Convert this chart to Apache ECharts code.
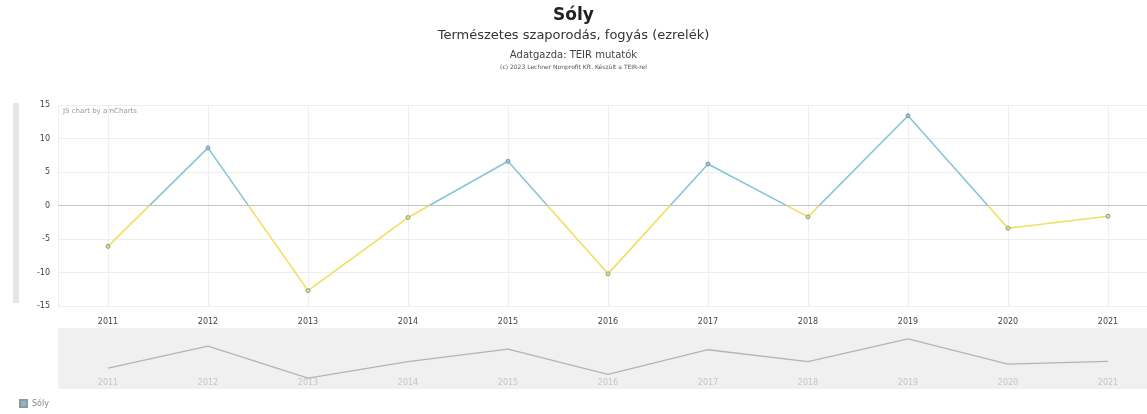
<!DOCTYPE html>
<html>
<head>
<meta charset="utf-8">
<script src="https://cdn.jsdelivr.net/npm/echarts@6/dist/echarts.min.js"></script>
<style>
html,body{margin:0;padding:0;background:#fff;}
#chart{width:1147px;height:414px;}
</style>
</head>
<body>
<div id="chart"></div>
<script>
var years = [2011, 2012, 2013, 2014, 2015, 2016, 2017, 2018, 2019, 2020, 2021];
var values = [-6.1, 8.6, -12.7, -1.8, 6.6, -10.2, 6.2, -1.7, 13.4, -3.4, -1.6];
var yTicks = [-15, -10, -5, 0, 5, 10, 15];
var titleText = 'Sóly';
var subtitleText = 'Természetes szaporodás, fogyás (ezrelék)';
var sourceText = 'Adatgazda: TEIR mutatók';
var copyrightText = '(c) 2023 Lechner Nonprofit Kft. Készült a TEIR-rel';
var seriesName = 'Sóly';

var pairs = years.map(function (y, i) { return [y, values[i]]; });

var chart = echarts.init(document.getElementById('chart'));
var font = 'DejaVu Sans, Verdana, sans-serif';
function yearFmt(v) { return Math.round(v) === v ? String(v) : ''; }

chart.setOption({
  backgroundColor: '#fff',
  animation: false,
  textStyle: { fontFamily: font },
  title: [
    { text: titleText, left: 'center', top: 2, textStyle: { fontSize: 17, fontWeight: 'bold', color: '#222', fontFamily: font } },
    { text: subtitleText, left: 'center', top: 24, textStyle: { fontSize: 13, fontWeight: 'normal', color: '#333', fontFamily: font } },
    { text: sourceText, left: 'center', top: 45, textStyle: { fontSize: 10, fontWeight: 'normal', color: '#444', fontFamily: font } },
    { text: copyrightText, left: 'center', top: 59, textStyle: { fontSize: 6, fontWeight: 'normal', color: '#555', fontFamily: font } }
  ],
  legend: {
    show: true, left: 14, bottom: 1, itemWidth: 7, itemHeight: 7, icon: 'rect', itemGap: 4,
    textStyle: { fontSize: 8, color: '#888' },
    data: [{ name: seriesName, itemStyle: { color: '#8fb8bf' } }]
  },
  graphic: [
    { type: 'rect', shape: { x: 13, y: 103, width: 6, height: 200 }, style: { fill: '#e6e6e6' } },
    { type: 'text', left: 63, top: 108, style: { text: 'JS chart by amCharts', fontSize: 7, fill: '#999', fontFamily: font } }
  ],
  grid: [
    { left: 58, right: 0, top: 105, height: 201 },
    { left: 58, right: 0, top: 328, height: 61, show: true, backgroundColor: '#f0f0f0', borderWidth: 0 }
  ],
  visualMap: {
    show: false, seriesIndex: 0, type: 'piecewise', dimension: 1,
    pieces: [{ min: -1000, max: 0, color: '#f2de5e' }, { min: 0, max: 1000, color: '#86c6d6' }]
  },
  xAxis: [
    {
      type: 'value', gridIndex: 0, min: 2010.5, max: 2021.39, splitNumber: 11, minInterval: 1,
      axisLine: { show: false }, axisTick: { show: false },
      axisLabel: { formatter: yearFmt, fontSize: 8, color: '#444', margin: 12, showMinLabel: false, showMaxLabel: false },
      splitLine: { show: true, lineStyle: { color: '#eeeeee', width: 1 } }
    },
    {
      type: 'value', gridIndex: 1, min: 2010.5, max: 2021.39, splitNumber: 11, minInterval: 1,
      axisLine: { show: false }, axisTick: { show: false },
      axisLabel: { formatter: yearFmt, inside: true, fontSize: 8, color: '#c4c4c4', margin: 2, showMinLabel: false, showMaxLabel: false },
      splitLine: { show: false }
    }
  ],
  yAxis: [
    {
      type: 'value', gridIndex: 0, min: -15, max: 15, interval: 5,
      axisLine: { show: false }, axisTick: { show: false },
      axisLabel: { fontSize: 8, color: '#444', margin: 8,
        formatter: function (v) { return yTicks.indexOf(v) >= 0 ? String(v) : ''; } },
      splitLine: { show: true, lineStyle: { color: '#eeeeee', width: 1 } }
    },
    {
      type: 'value', gridIndex: 1, min: -20, max: 20.7, show: false,
      splitLine: { show: false }
    }
  ],
  series: [
    {
      name: seriesName, type: 'line', xAxisIndex: 0, yAxisIndex: 0, data: pairs,
      symbol: 'circle', symbolSize: 4, lineStyle: { width: 1.6 },
      itemStyle: { borderColor: '#8a9aa0', borderWidth: 1 },
      markLine: {
        silent: true, symbol: 'none', label: { show: false },
        lineStyle: { color: '#c4c4c4', type: 'solid', width: 1 },
        data: [{ yAxis: 0 }]
      }
    },
    {
      name: seriesName + ' ', type: 'line', xAxisIndex: 1, yAxisIndex: 1, data: pairs,
      symbol: 'none', lineStyle: { color: '#b4b4b4', width: 1.3 }, silent: true
    }
  ]
});
</script>
</body>
</html>
